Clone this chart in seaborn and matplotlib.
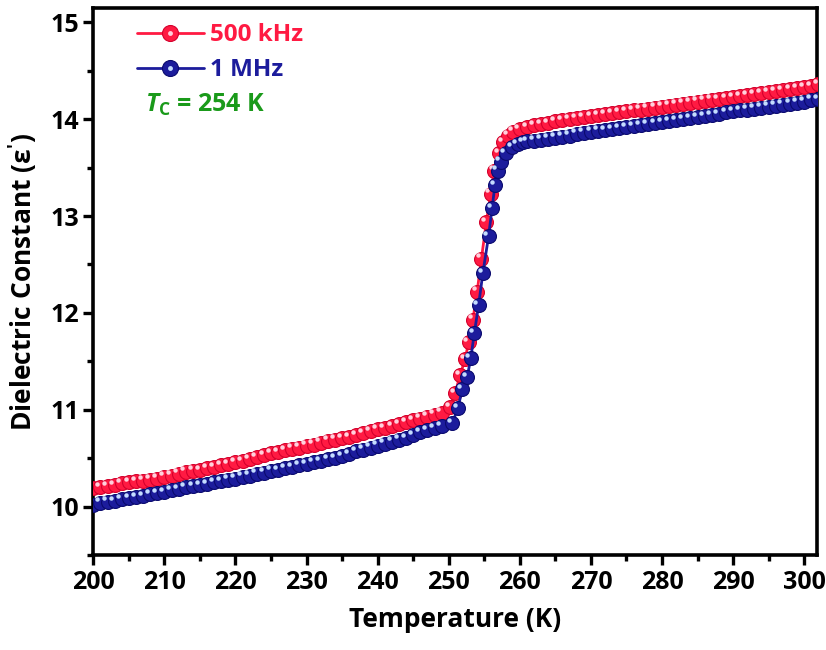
import matplotlib
matplotlib.use("Agg")
import matplotlib.pyplot as plt
import matplotlib.transforms as mtransforms
from matplotlib.lines import Line2D
from matplotlib.legend_handler import HandlerTuple
from matplotlib.ticker import MultipleLocator
import seaborn as sns

# temperature grid (K)
temp_low = [200, 201, 202, 203, 204, 205, 206, 207, 208, 209,
            210, 211, 212, 213, 214, 215, 216, 217, 218, 219,
            220, 221, 222, 223, 224, 225, 226, 227, 228, 229,
            230, 231, 232, 233, 234, 235, 236, 237, 238, 239,
            240, 241, 242, 243, 244, 245, 246, 247, 248, 249]
temp_high = [261, 262, 263, 264, 265, 266, 267, 268, 269, 270,
             271, 272, 273, 274, 275, 276, 277, 278, 279, 280,
             281, 282, 283, 284, 285, 286, 287, 288, 289, 290,
             291, 292, 293, 294, 295, 296, 297, 298, 299, 300,
             301, 302]

# 500 kHz
eps_500k_low = [10.19, 10.20, 10.21, 10.22, 10.24, 10.25, 10.26, 10.27, 10.28, 10.29,
                10.31, 10.32, 10.34, 10.36, 10.37, 10.38, 10.40, 10.41, 10.43, 10.44,
                10.46, 10.47, 10.49, 10.51, 10.53, 10.55, 10.56, 10.58, 10.60, 10.61,
                10.63, 10.64, 10.66, 10.68, 10.69, 10.71, 10.72, 10.74, 10.76, 10.78,
                10.80, 10.81, 10.83, 10.85, 10.87, 10.89, 10.91, 10.93, 10.95, 10.97]
temp_500k_mid = [250.2, 250.9, 251.6, 252.3, 252.8, 253.4, 254.0, 254.6, 255.3, 255.9,
                 256.4, 257.1, 257.7, 258.4, 259.1, 260.0]
eps_500k_mid = [11.03, 11.17, 11.36, 11.52, 11.70, 11.93, 12.22, 12.56, 12.94, 13.23,
                13.47, 13.65, 13.76, 13.83, 13.87, 13.90]
eps_500k_high = [13.92, 13.94, 13.95, 13.96, 13.98, 13.99, 14.00, 14.01, 14.02, 14.03,
                 14.04, 14.05, 14.06, 14.07, 14.08, 14.09, 14.10, 14.11, 14.12, 14.13,
                 14.14, 14.15, 14.16, 14.17, 14.18, 14.19, 14.20, 14.21, 14.22, 14.23,
                 14.24, 14.25, 14.26, 14.27, 14.28, 14.29, 14.30, 14.31, 14.32, 14.33,
                 14.34, 14.36]

# 1 MHz
eps_1m_low = [10.02, 10.04, 10.05, 10.06, 10.08, 10.09, 10.10, 10.11, 10.13, 10.14,
              10.15, 10.17, 10.18, 10.20, 10.21, 10.22, 10.23, 10.25, 10.26, 10.28,
              10.29, 10.31, 10.32, 10.34, 10.35, 10.37, 10.38, 10.40, 10.41, 10.43,
              10.44, 10.46, 10.47, 10.49, 10.50, 10.52, 10.54, 10.57, 10.59, 10.61,
              10.63, 10.65, 10.67, 10.69, 10.71, 10.74, 10.77, 10.79, 10.81, 10.83]
temp_1m_mid = [250.5, 251.3, 251.9, 252.6, 253.1, 253.6, 254.2, 254.8, 255.6, 256.1,
               256.5, 256.9, 257.3, 258.0, 258.9, 259.7, 260.5]
eps_1m_mid = [10.86, 11.02, 11.21, 11.34, 11.53, 11.79, 12.08, 12.41, 12.79, 13.08,
              13.32, 13.47, 13.56, 13.65, 13.71, 13.74, 13.76]
eps_1m_high = [13.77, 13.78, 13.79, 13.80, 13.81, 13.82, 13.83, 13.85, 13.86, 13.87,
               13.88, 13.89, 13.90, 13.91, 13.92, 13.93, 13.94, 13.95, 13.96, 13.97,
               13.98, 13.99, 14.00, 14.01, 14.02, 14.03, 14.04, 14.05, 14.07, 14.08,
               14.09, 14.10, 14.11, 14.12, 14.13, 14.14, 14.15, 14.16, 14.17, 14.18,
               14.20, 14.21]

series = [
    ("500 kHz", temp_low + temp_500k_mid + temp_high,
     eps_500k_low + eps_500k_mid + eps_500k_high, "#ff1a42", "#d4002c", "#ffd0dc"),
    ("1 MHz", temp_low + temp_1m_mid + temp_high,
     eps_1m_low + eps_1m_mid + eps_1m_high, "#1c1c9c", "#0a0a6e", "#c4dcff"),
]

sns.set_theme(style="ticks")
plt.rcParams["font.family"] = ["Open Sans", "DejaVu Sans"]
plt.rcParams["font.weight"] = "bold"
plt.rcParams["text.color"] = "black"
plt.rcParams["axes.labelcolor"] = "black"
plt.rcParams["mathtext.fontset"] = "custom"
plt.rcParams["mathtext.rm"] = "Open Sans:bold"
plt.rcParams["mathtext.bf"] = "Open Sans:bold"
plt.rcParams["mathtext.it"] = "Open Sans:italic:bold"

fig = plt.figure(figsize=(8.26, 6.5), dpi=100)
ax = fig.add_axes([0.113, 0.146, 0.876, 0.842])

shine = ax.transData + mtransforms.ScaledTranslation(-2.4 / 72, 2.4 / 72, fig.dpi_scale_trans)
handles = []
for i, (name, t, eps, col, edge, hi) in enumerate(series):
    sns.lineplot(x=t, y=eps, ax=ax, color=col, lw=2, sort=False, estimator=None,
                 marker="o", markersize=10, markeredgecolor=edge, markeredgewidth=0.8,
                 zorder=3 + 2 * i, legend=False)
    ax.plot(t, eps, ls="none", marker="o", markersize=3.2, color=hi, mec="none",
            transform=shine, zorder=4 + 2 * i)
    h_main = Line2D([], [], color=col, lw=2, marker="o", markersize=11.5,
                    markeredgecolor=edge, markeredgewidth=0.8)
    h_hi = Line2D([], [], ls="none", marker="o", markersize=3.5, color=hi, mec="none")
    handles.append((h_main, h_hi))

leg = ax.legend(handles, [s[0] for s in series], handler_map={tuple: HandlerTuple(ndivide=1)},
                loc="upper left", bbox_to_anchor=(0.03, 1.012), frameon=False,
                handlelength=2.75, handletextpad=0.25, labelspacing=0.45,
                prop={"size": 17.5, "weight": "bold"})
for txt, s in zip(leg.get_texts(), series):
    txt.set_color(s[3])

ax.text(0.072, 0.822, r"$\mathit{T}_\mathrm{C}$ = 254 K", transform=ax.transAxes,
        color="#1a9a1a", fontsize=18, fontweight="bold", ha="left", va="center")

ax.set_xlim(200, 301.8)
ax.set_ylim(9.5, 15.15)
ax.xaxis.set_major_locator(MultipleLocator(10))
ax.xaxis.set_minor_locator(MultipleLocator(5))
ax.yaxis.set_major_locator(MultipleLocator(1))
ax.yaxis.set_minor_locator(MultipleLocator(0.5))
ax.tick_params(which="both", direction="out", width=2.4, colors="black",
               labelsize=18, top=False, right=False)
ax.tick_params(which="major", length=7)
ax.tick_params(which="minor", length=4.5)
for lab in ax.get_xticklabels() + ax.get_yticklabels():
    lab.set_fontweight("bold")
for sp in ax.spines.values():
    sp.set_linewidth(2.6)
    sp.set_color("black")

ax.set_xlabel("Temperature (K)", fontsize=19, fontweight="bold", labelpad=8)
ax.set_ylabel(r"Dielectric Constant (ε$^{\prime}$)", fontsize=19, fontweight="bold", labelpad=8)

fig.savefig("out.png", dpi=100)
